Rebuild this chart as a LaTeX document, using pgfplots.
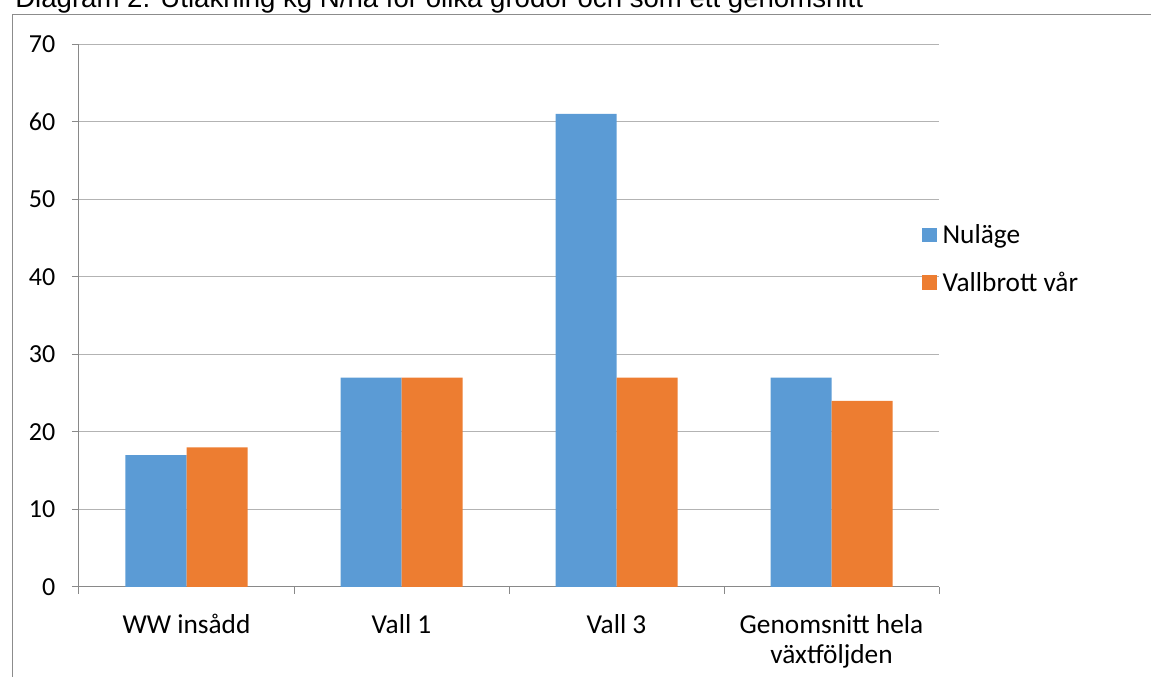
\documentclass[border=0pt]{standalone}
\usepackage{fontspec}
\setmainfont{Carlito}
\newfontfamily\titlefont{Liberation Sans}
\usepackage{pgfplots}
\pgfplotsset{compat=1.18}
\definecolor{cblue}{HTML}{5B9BD5}
\definecolor{corange}{HTML}{ED7D31}
\definecolor{gridc}{HTML}{B3B3B3}
\definecolor{axc}{HTML}{898989}
\definecolor{framec}{HTML}{8C8C8C}
\begin{document}
\begin{tikzpicture}[font=\fontsize{19.5}{22.5}\selectfont]
\path[use as bounding box, clip] (0,0) rectangle (863.25pt,507.75pt);
% frame lines
\draw[framec, line width=0.75pt] (9pt,0pt) -- (9pt,496.5pt) -- (870pt,496.5pt);
% clipped title
\node[anchor=base west, inner sep=0pt, font=\titlefont\fontsize{20.7}{24}\selectfont] at (11.25pt,501.75pt)
  {Diagram 2. Utlakning kg N/ha för olika grödor och som ett genomsnitt};
\begin{axis}[
  at={(59.25pt,67.5pt)}, anchor=south west,
  scale only axis, width=645pt, height=407.25pt,
  ybar=0pt, bar width=45.75pt,
  xmin=-0.5, xmax=3.5, ymin=0, ymax=70,
  ytick={0,10,...,70},
  xtick={-0.5,0.5,1.5,2.5,3.5}, xticklabels={},
  extra x ticks={0,1,2,3},
  extra x tick labels={WW insådd, Vall 1, Vall 3, {Genomsnitt hela\\växtföljden}},
  extra x tick style={major tick length=0pt, xticklabel style={align=center, anchor=north, yshift=-17pt, font=\fontsize{20.5}{22.5}\selectfont}},
  axis x line*=bottom, axis y line*=left,
  axis line style={axc, line width=0.75pt, -},
  tick style={axc, line width=0.75pt},
  tick align=outside, major tick length=5.25pt,
  ymajorgrids, grid style={gridc, line width=0.75pt},
  yticklabel style={anchor=east, xshift=-9pt},
  /pgf/number format/assume math mode=true,
  legend style={at={(0.9802,0.604)}, anchor=west, draw=none, fill=none, inner sep=0pt,
    row sep=17pt, nodes={inner xsep=4pt, inner ysep=1.5pt}, font=\fontsize{20.5}{23}\selectfont},
  legend cell align=left,
]
\addplot[fill=cblue, draw=none, legend image code/.code={\fill[cblue] (0pt,-5.6pt) rectangle (11.25pt,5.6pt);}]
  coordinates {(0,17) (1,27) (2,61) (3,27)};
\addplot[fill=corange, draw=none, legend image code/.code={\fill[corange] (0pt,-5.6pt) rectangle (11.25pt,5.6pt);}]
  coordinates {(0,18) (1,27) (2,27) (3,24)};
\legend{Nuläge, Vallbrott vår}
\end{axis}
\end{tikzpicture}
\end{document}
